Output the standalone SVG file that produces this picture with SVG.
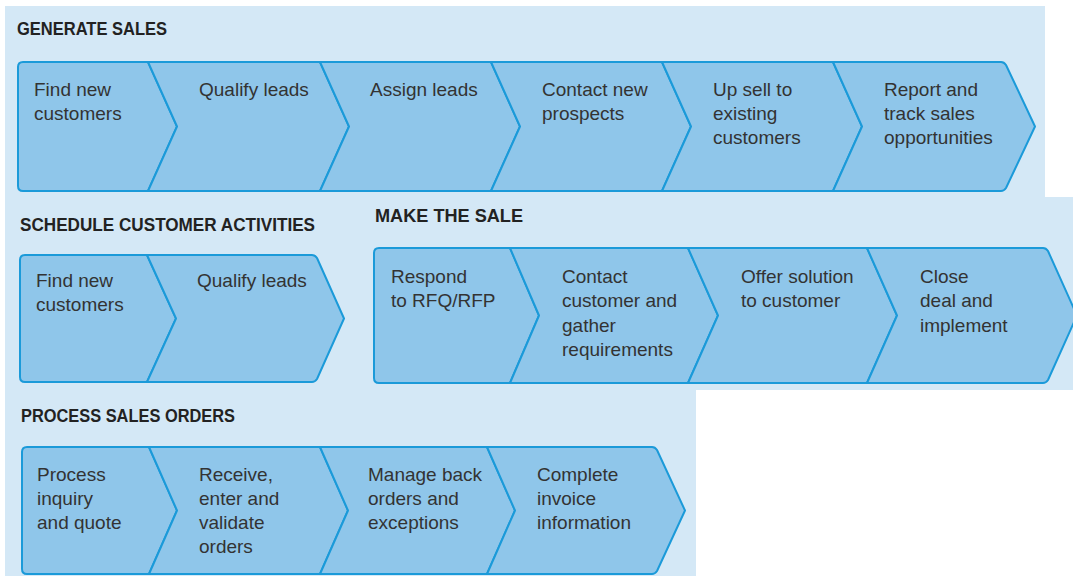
<svg xmlns="http://www.w3.org/2000/svg" width="1073" height="576" viewBox="0 0 1073 576">
<style>
.bg{fill:#d4e8f6;stroke:none}
.chev{fill:#8fc6ea;stroke:#1b9ad9;stroke-width:2;stroke-linejoin:round}
.hd{font-family:"Liberation Sans",Arial,sans-serif;font-weight:bold;font-size:18.5px;fill:#222}
.t{font-family:"Liberation Sans",Arial,sans-serif;font-size:19px;fill:#333}
</style>
<rect width="1073" height="576" fill="#ffffff"/>
<path class="bg" d="M5,6 H1045 V197 H1073 V390 H696 V576 H5 Z"/>

<g id="generate-sales">
  <text class="hd" x="17" y="35" textLength="150" lengthAdjust="spacingAndGlyphs">GENERATE SALES</text>
  <g id="gs-find">
    <path class="chev" d="M23,62 H148 L177,126.5 L148,191 H23 Q18,191 18,186 V67 Q18,62 23,62 Z"/>
    <text class="t" x="34" y="96">Find new</text><text class="t" x="34" y="120">customers</text>
  </g>
  <g id="gs-qualify">
    <path class="chev" d="M148,62 H320 L349,126.5 L320,191 H148 L177,126.5 Z"/>
    <text class="t" x="199" y="96">Qualify leads</text>
  </g>
  <g id="gs-assign">
    <path class="chev" d="M320,62 H491 L520,126.5 L491,191 H320 L349,126.5 Z"/>
    <text class="t" x="370" y="96">Assign leads</text>
  </g>
  <g id="gs-contact">
    <path class="chev" d="M491,62 H662 L691,126.5 L662,191 H491 L520,126.5 Z"/>
    <text class="t" x="542" y="96">Contact new</text><text class="t" x="542" y="120">prospects</text>
  </g>
  <g id="gs-upsell">
    <path class="chev" d="M662,62 H833 L862,126.5 L833,191 H662 L691,126.5 Z"/>
    <text class="t" x="713" y="96">Up sell to</text><text class="t" x="713" y="120">existing</text><text class="t" x="713" y="144">customers</text>
  </g>
  <g id="gs-report">
    <path class="chev" d="M833,62 H1001 Q1004,62 1006,65 L1035,126.5 L1006,188 Q1004,191 1001,191 H833 L862,126.5 Z"/>
    <text class="t" x="884" y="96">Report and</text><text class="t" x="884" y="120">track sales</text><text class="t" x="884" y="144">opportunities</text>
  </g>
</g>

<g id="schedule-activities">
  <text class="hd" x="20" y="231" textLength="295" lengthAdjust="spacingAndGlyphs">SCHEDULE CUSTOMER ACTIVITIES</text>
  <g id="sa-find">
    <path class="chev" d="M25,255 H147 L176,318.5 L147,382 H25 Q20,382 20,377 V260 Q20,255 25,255 Z"/>
    <text class="t" x="36" y="287">Find new</text><text class="t" x="36" y="311">customers</text>
  </g>
  <g id="sa-qualify">
    <path class="chev" d="M147,255 H312 Q315,255 317,258 L344,318.5 L317,379 Q315,382 312,382 H147 L176,318.5 Z"/>
    <text class="t" x="197" y="287">Qualify leads</text>
  </g>
</g>

<g id="make-the-sale">
  <text class="hd" x="375" y="222" textLength="148" lengthAdjust="spacingAndGlyphs">MAKE THE SALE</text>
  <g id="ms-respond">
    <path class="chev" d="M379,248 H510 L539,315.5 L510,383 H379 Q374,383 374,378 V253 Q374,248 379,248 Z"/>
    <text class="t" x="391" y="283">Respond</text><text class="t" x="391" y="307">to RFQ/RFP</text>
  </g>
  <g id="ms-contact">
    <path class="chev" d="M510,248 H688 L718,315.5 L688,383 H510 L539,315.5 Z"/>
    <text class="t" x="562" y="283">Contact</text><text class="t" x="562" y="307">customer and</text><text class="t" x="562" y="332">gather</text><text class="t" x="562" y="356">requirements</text>
  </g>
  <g id="ms-offer">
    <path class="chev" d="M688,248 H867 L897,315.5 L867,383 H688 L718,315.5 Z"/>
    <text class="t" x="741" y="283">Offer solution</text><text class="t" x="741" y="307">to customer</text>
  </g>
  <g id="ms-close">
    <path class="chev" d="M867,248 H1043 Q1046,248 1048,251 L1077,315.5 L1048,380 Q1046,383 1043,383 H867 L897,315.5 Z"/>
    <text class="t" x="920" y="283">Close</text><text class="t" x="920" y="307">deal and</text><text class="t" x="920" y="332">implement</text>
  </g>
</g>

<g id="process-sales-orders">
  <text class="hd" x="21" y="422" textLength="214" lengthAdjust="spacingAndGlyphs">PROCESS SALES ORDERS</text>
  <g id="po-process">
    <path class="chev" d="M27,447 H149 L177,510.5 L149,574 H27 Q22,574 22,569 V452 Q22,447 27,447 Z"/>
    <text class="t" x="37" y="481">Process</text><text class="t" x="37" y="505">inquiry</text><text class="t" x="37" y="529">and quote</text>
  </g>
  <g id="po-receive">
    <path class="chev" d="M149,447 H320 L348,510.5 L320,574 H149 L177,510.5 Z"/>
    <text class="t" x="199" y="481">Receive,</text><text class="t" x="199" y="505">enter and</text><text class="t" x="199" y="529">validate</text><text class="t" x="199" y="553">orders</text>
  </g>
  <g id="po-manage">
    <path class="chev" d="M320,447 H487 L515,510.5 L487,574 H320 L348,510.5 Z"/>
    <text class="t" x="368" y="481">Manage back</text><text class="t" x="368" y="505">orders and</text><text class="t" x="368" y="529">exceptions</text>
  </g>
  <g id="po-complete">
    <path class="chev" d="M487,447 H652 Q655,447 657,450 L685,510.5 L657,571 Q655,574 652,574 H487 L515,510.5 Z"/>
    <text class="t" x="537" y="481">Complete</text><text class="t" x="537" y="505">invoice</text><text class="t" x="537" y="529">information</text>
  </g>
</g>

<g id="connectors"></g>
</svg>
